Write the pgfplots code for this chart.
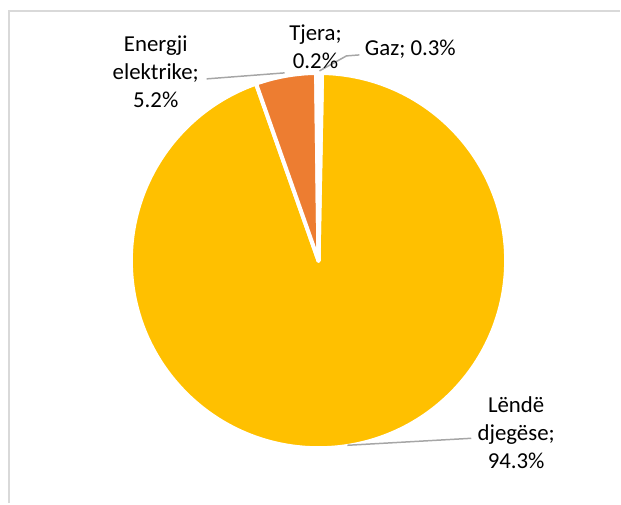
\documentclass[border=0pt]{standalone}
\usepackage{fontspec}
\setmainfont{Carlito}
\usepackage{pgfplots}
\usepackage{pgfplotstable}
\pgfplotsset{compat=1.18}

\definecolor{cYellow}{HTML}{FFC000}
\definecolor{cOrange}{HTML}{ED7D31}
\definecolor{cGray}{HTML}{A5A5A5}
\definecolor{cBlue}{HTML}{4472C4}
\definecolor{cBorder}{HTML}{D9D9D9}
\definecolor{cLeader}{HTML}{A6A6A6}

% shares in percent, clockwise from 12 o'clock
\pgfplotstableread[col sep=comma]{
name,value
Gaz,0.3
Lende,94.3
Energji,5.2
Tjera,0.2
}\piedata

\pgfplotstablegetelem{0}{value}\of\piedata \let\vGaz\pgfplotsretval
\pgfplotstablegetelem{1}{value}\of\piedata \let\vLen\pgfplotsretval
\pgfplotstablegetelem{2}{value}\of\piedata \let\vEne\pgfplotsretval
\pgfplotstablegetelem{3}{value}\of\piedata \let\vTje\pgfplotsretval

\pgfmathsetmacro\aO{90}
\pgfmathsetmacro\aA{\aO-3.6*\vGaz}
\pgfmathsetmacro\aB{\aA-3.6*\vLen}
\pgfmathsetmacro\aC{\aB-3.6*\vEne}
\pgfmathsetmacro\aD{\aC-3.6*\vTje}

\def\R{3.76cm}
\newcommand\lbl{\fontsize{13}{16}\selectfont}

\begin{document}
\begin{tikzpicture}
\begin{axis}[
    x=0.02cm, y=0.02cm,
    xmin=0, xmax=621, ymin=0, ymax=504,
    hide axis,
    clip=false
]
\path (axis cs:0,0) rectangle (axis cs:621,504);
% chart frame (cropped: top and left edge only)
\addplot[cBorder, line width=1.14pt] coordinates {(8.7,0) (8.7,493) (621,493)};

% slices
\fill[cYellow, draw=white, line width=2.3pt, line join=round]
  (axis cs:319,243) -- ++(\aA:\R) arc[start angle=\aA, end angle=\aB, radius=\R] -- cycle;
\fill[cOrange, draw=white, line width=2.3pt, line join=round]
  (axis cs:319,243) -- ++(\aB:\R) arc[start angle=\aB, end angle=\aC, radius=\R] -- cycle;
\fill[cGray, draw=white, line width=2.3pt, line join=round]
  (axis cs:319,243) -- ++(\aO:\R) arc[start angle=\aO, end angle=\aA, radius=\R] -- cycle;
\fill[cBlue, draw=white, line width=2.3pt, line join=round]
  (axis cs:319,243) -- ++(\aC:\R) arc[start angle=\aC, end angle=\aD, radius=\R] -- cycle;

% leader lines
\addplot[cLeader, line width=0.85pt] coordinates {(207,425) (285,431)};
\addplot[cLeader, line width=0.85pt] coordinates {(320,433) (347,448) (360,449)};
\addplot[cLeader, line width=0.85pt] coordinates {(348,58) (472,65)};

% data labels
\node[align=center, font=\lbl] at (axis cs:316,457) {Tjera;\\\vTje\%};
\node[align=center, font=\lbl] at (axis cs:411,455) {Gaz; \vGaz\%};
\node[align=center, font=\lbl] at (axis cs:156,432) {Energji\\elektrike;\\\vEne\%};
\node[align=center, font=\lbl] at (axis cs:517,71) {Lëndë\\djegëse;\\\vLen\%};
\end{axis}
\end{tikzpicture}
\end{document}
